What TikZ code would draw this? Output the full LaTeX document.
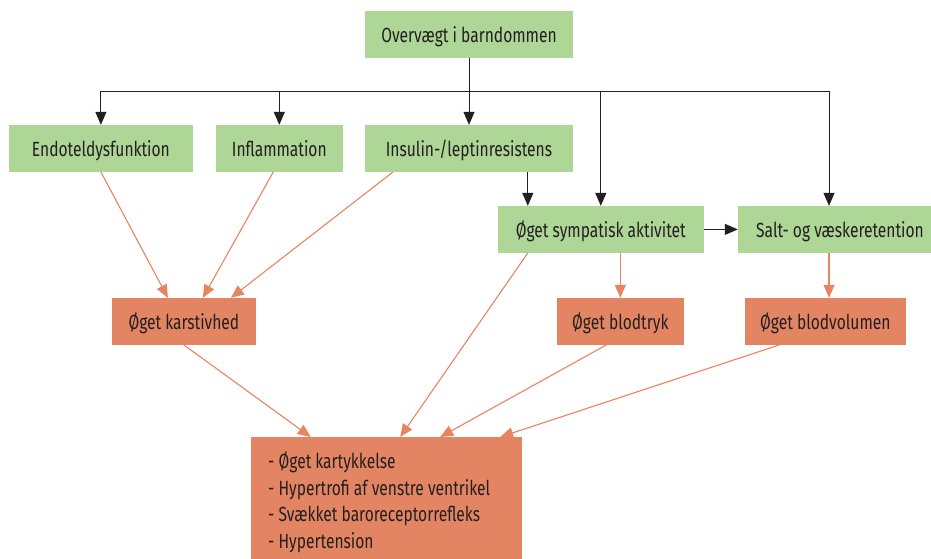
\documentclass[tikz,border=0pt]{standalone}
\usepackage{fontspec}
\setmainfont[FakeStretch=0.76]{Fira Sans}
\usepackage{tikz}
\usetikzlibrary{arrows.meta,calc}
\usepackage{xcolor}
\definecolor{gbox}{HTML}{ADD697}
\definecolor{obox}{HTML}{E38563}
\definecolor{oline}{HTML}{E8845F}
\definecolor{ink}{HTML}{231F20}

\begin{document}
\begin{tikzpicture}[
  x=1pt, y=-1pt,
  box/.style={inner sep=0pt, minimum height=46.7pt, text depth=0pt, text=ink, font=\fontsize{20.5}{24}\selectfont},
  cause/.style={box, fill=gbox},
  effect/.style={box, fill=obox},
  blk/.style={draw=ink, line width=1pt, -{Triangle[length=13pt,width=11pt]}},
  org/.style={draw=oline, line width=1.1pt, -{Triangle[length=13pt,width=11pt]}}
]
\useasboundingbox (0,0) rectangle (931,558);
\node[cause, minimum width=207.7pt] (top) at (469,34.4) {Overvægt i barndommen};
\node[cause, minimum width=183.7pt] (endo) at (100.9,148.4) {Endoteldysfunktion};
\node[cause, minimum width=126.7pt] (infl) at (279.3,148.4) {Inflammation};
\node[cause, minimum width=207.7pt] (ins) at (469,148.4) {Insulin-/leptinresistens};
\node[cause, minimum width=205.7pt] (sym) at (600.8,229.4) {Øget sympatisk aktivitet};
\node[cause, minimum width=204pt] (salt) at (840,229.4) {Salt- og væskeretention};
\node[effect, minimum width=143.7pt] (kar) at (183.9,321.4) {Øget karstivhed};
\node[effect, minimum width=126.7pt] (tryk) at (620.3,321.4) {Øget blodtryk};
\node[effect, minimum width=160.7pt] (vol) at (825.3,321.4) {Øget blodvolumen};
\node[effect, anchor=north west, minimum width=271pt, minimum height=130pt,
      text depth=, inner xsep=17pt, text width=237pt, align=flush left,
      font=\fontsize{20.5}{26.7}\selectfont] (eff) at (251,437)
  {- Øget kartykkelse\\- Hypertrofi af venstre ventrikel\\- Svækket baroreceptorrefleks\\- Hypertension};
\coordinate (bL) at (100.9,91);
\coordinate (bR) at (829,91);
\draw[draw=ink, line width=1pt] (bL) -- (bR);
\draw[blk] (top.south) -- (ins.north);
\draw[blk] (bL) -- (endo.north);
\draw[blk] (infl.north |- bL) -- (infl.north);
\draw[blk] (sym.north |- bL) -- (sym.north);
\draw[blk] (bR) -- (bR |- salt.north);
\draw[blk] ([xshift=-73pt]sym.north |- ins.south) -- ([xshift=-73pt]sym.north);
\draw[blk] (sym.east) -- (salt.west);
\draw[org] (endo.south) -- ([xshift=-16pt]kar.north);
\draw[org] ([xshift=-6pt]infl.south) -- ([xshift=19pt]kar.north);
\draw[org] ([xshift=-76pt]ins.south) -- ([xshift=47pt]kar.north);
\draw[org] (sym.south -| tryk.north) -- (tryk.north);
\draw[org] (bR |- salt.south) -- (bR |- vol.north);
\draw[org] (kar.south) -- ([xshift=-76pt]eff.north);
\draw[org] ([xshift=-73pt]sym.south) -- ([xshift=13.5pt]eff.north);
\draw[org] ([xshift=-14pt]tryk.south) -- ([xshift=53.5pt]eff.north);
\draw[org] ([xshift=-46pt]vol.south) -- ([xshift=113.5pt]eff.north);
\end{tikzpicture}
\end{document}
